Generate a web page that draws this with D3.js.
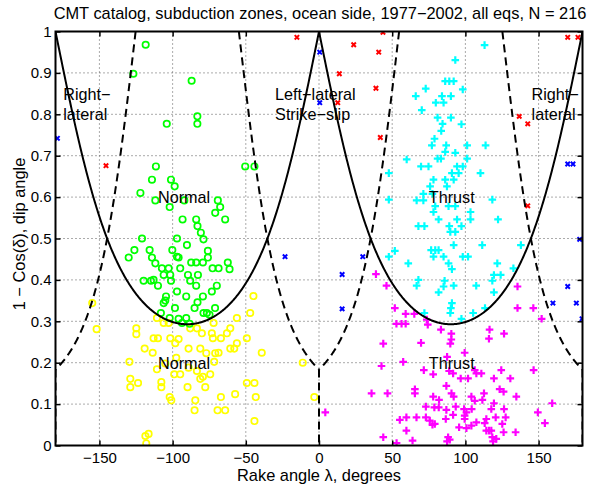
<!DOCTYPE html>
<html><head><meta charset="utf-8">
<script src="https://cdn.jsdelivr.net/npm/d3@7"></script>
<style>
body{margin:0;background:#fff}
text{font-family:"Liberation Sans",Arial,Helvetica,sans-serif;fill:#000}
</style>
</head><body><svg id="c" width="597" height="486"></svg>
<script>
// ---- data: [rake λ (deg), 1 - cos(dip)] ----
const xTicks = [-150, -100, -50, 0, 50, 100, 150];
const yTicks = [0, 0.1, 0.2, 0.3, 0.4, 0.5, 0.6, 0.7, 0.8, 0.9, 1];

const normalSteep = [ // green circles
[-118.4,0.968],[-126.8,0.898],[-87.0,0.881],[-83.1,0.795],[-83.1,0.777],[-104.0,0.777],[-50.4,0.674],[-44.1,0.674],
[-111.4,0.674],[-114.1,0.642],[-101.1,0.642],[-98.6,0.626],[-122.0,0.610],[-111.8,0.592],[-102.0,0.576],[-92.0,0.592],
[-69.1,0.592],[-67.5,0.576],[-70.9,0.562],[-64.1,0.546],[-93.2,0.546],[-83.9,0.546],[-83.0,0.530],[-80.7,0.514],
[-78.9,0.498],[-120.9,0.500],[-97.0,0.500],[-90.2,0.484],[-126.1,0.472],[-130.0,0.454],[-115.7,0.472],[-114.1,0.454],
[-100.2,0.472],[-97.0,0.456],[-95.9,0.454],[-75.9,0.470],[-75.9,0.454],[-111.8,0.440],[-107.3,0.428],[-102.7,0.428],
[-106.1,0.412],[-101.6,0.412],[-94.8,0.428],[-87.3,0.442],[-83.9,0.442],[-79.3,0.442],[-89.5,0.412],[-82.7,0.412],
[-72.7,0.428],[-68.6,0.428],[-62.3,0.442],[-61.1,0.426],[-119.8,0.398],[-114.8,0.398],[-113.0,0.400],[-110.0,0.386],
[-101.1,0.398],[-88.0,0.398],[-83.9,0.386],[-69.8,0.386],[-73.2,0.372],[-97.0,0.372],[-90.7,0.360],[-104.5,0.360],
[-106.1,0.344],[-105.0,0.350],[-98.4,0.332],[-83.0,0.346],[-79.3,0.360],[-85.0,0.332],[-78.9,0.320],[-76.6,0.320],
[-74.8,0.316],[-71.0,0.332],[-108.0,0.320],[-102.0,0.308],[-95.9,0.306],[-90.7,0.308],[-93.6,0.296],[-88.4,0.294]
];
const normalShallow = [ // yellow circles
[-44.8,0.361],[-47.0,0.320],[-56.1,0.308],[-110.7,0.308],[-106.1,0.296],[-102.7,0.296],[-124.8,0.283],[-124.8,0.269],
[-113.0,0.259],[-110.0,0.259],[-101.6,0.259],[-95.9,0.257],[-98.2,0.247],[-88.0,0.283],[-83.4,0.283],[-80.0,0.271],
[-73.2,0.271],[-72.5,0.259],[-72.0,0.296],[-67.0,0.259],[-62.9,0.271],[-60.6,0.283],[-56.1,0.247],[-49.3,0.259],
[-39.1,0.224],[-119.1,0.234],[-113.6,0.224],[-89.1,0.234],[-81.1,0.234],[-77.0,0.223],[-70.9,0.223],[-68.6,0.224],
[-60.6,0.234],[-57.9,0.234],[-129.5,0.202],[-110.7,0.184],[-97.5,0.212],[-105.0,0.198],[-89.1,0.188],[-83.4,0.180],
[-71.6,0.202],[-98.9,0.172],[-94.8,0.172],[-81.1,0.161],[-79.3,0.166],[-74.3,0.172],[-128.9,0.161],[-128.9,0.141],
[-123.6,0.151],[-107.7,0.153],[-107.7,0.141],[-89.8,0.141],[-77.7,0.141],[-49.3,0.151],[-44.1,0.151],[-102.0,0.117],
[-100.9,0.109],[-84.5,0.109],[-85.0,0.085],[-67.0,0.117],[-69.3,0.085],[-64.1,0.085],[-57.3,0.124],[-43.2,0.117],
[-44.1,0.059],[-118.6,0.023],[-116.4,0.028],[-118.0,0.005],[-151.9,0.281],[-154.9,0.344],[-11.1,0.200],[-3.2,0.117]
];
const thrustSteep = [ // cyan plus
[113.1,0.967],[93.1,0.931],[86.2,0.880],[89.0,0.880],[92.0,0.880],[72.9,0.862],[98.2,0.860],[66.1,0.844],[84.0,0.844],
[90.1,0.844],[79.8,0.828],[85.1,0.828],[70.2,0.810],[81.0,0.792],[90.1,0.792],[84.4,0.777],[97.3,0.776],[83.5,0.760],
[78.9,0.741],[77.1,0.725],[86.9,0.725],[101.2,0.725],[113.8,0.725],[86.2,0.709],[93.1,0.707],[59.9,0.691],[81.0,0.693],
[83.3,0.693],[101.2,0.693],[69.7,0.674],[74.8,0.674],[94.3,0.674],[98.2,0.674],[47.7,0.658],[90.8,0.658],[95.4,0.658],
[110.3,0.658],[78.2,0.642],[86.2,0.642],[92.0,0.642],[75.9,0.626],[87.4,0.626],[71.3,0.608],[77.5,0.608],[66.7,0.592],
[71.3,0.592],[47.7,0.594],[118.4,0.594],[79.4,0.578],[88.5,0.578],[93.1,0.578],[78.2,0.564],[103.5,0.564],[81.7,0.546],
[94.3,0.546],[103.5,0.546],[122.3,0.546],[67.9,0.530],[72.0,0.530],[89.0,0.530],[97.3,0.530],[89.7,0.516],[93.1,0.516],
[92.0,0.484],[111.5,0.484],[137.9,0.484],[51.8,0.470],[76.6,0.472],[79.4,0.472],[81.7,0.472],[78.2,0.456],[85.1,0.456],
[98.2,0.456],[101.8,0.456],[47.7,0.456],[61.0,0.440],[88.5,0.440],[90.8,0.426],[121.8,0.440],[132.8,0.428],[119.5,0.412],
[124.1,0.412],[67.9,0.400],[85.8,0.398],[118.4,0.398],[66.7,0.386],[92.0,0.386],[107.4,0.386],[85.1,0.384],[81.7,0.370],
[119.5,0.370],[90.8,0.344],[90.1,0.332],[89.7,0.320],[72.0,0.320],[105.3,0.320],[97.3,0.306],[113.4,0.332]
];
const thrustShallow = [ // magenta plus
[46.1,0.386],[51.8,0.332],[59.2,0.318],[65.1,0.318],[52.9,0.294],[56.4,0.294],[59.2,0.294],[73.6,0.304],[74.3,0.292],
[83.3,0.280],[90.4,0.270],[90.4,0.256],[89.7,0.246],[116.5,0.280],[116.1,0.258],[126.4,0.270],[135.6,0.384],[135.6,0.332],
[146.4,0.332],[152.1,0.306],[69.7,0.248],[38.9,0.414],[4.3,0.080],[43.9,0.246],[99.5,0.224],[87.5,0.214],[57.5,0.202],
[42.7,0.192],[71.6,0.182],[78.0,0.172],[88.9,0.180],[91.6,0.174],[96.8,0.162],[101.8,0.162],[106.4,0.182],[107.5,0.174],
[110.9,0.174],[119.5,0.162],[124.5,0.182],[130.7,0.162],[146.6,0.182],[35.9,0.126],[46.8,0.126],[65.5,0.136],[65.5,0.126],
[87.0,0.144],[78.0,0.118],[82.0,0.110],[90.5,0.126],[92.0,0.118],[104.1,0.118],[112.7,0.126],[106.4,0.108],[111.6,0.110],
[123.4,0.136],[126.1,0.130],[134.8,0.118],[159.3,0.102],[119.5,0.102],[73.0,0.094],[78.8,0.092],[81.8,0.092],[87.0,0.086],
[93.4,0.094],[99.1,0.088],[100.7,0.080],[104.3,0.088],[117.7,0.088],[126.4,0.088],[149.5,0.080],[55.2,0.062],[59.7,0.068],
[66.6,0.068],[73.0,0.068],[75.7,0.060],[77.5,0.050],[79.1,0.052],[86.6,0.064],[91.6,0.074],[99.5,0.072],[99.5,0.064],
[107.5,0.056],[104.1,0.048],[114.3,0.064],[113.2,0.054],[120.7,0.068],[127.5,0.068],[125.2,0.052],[154.3,0.054],[95.7,0.044],
[100.7,0.042],[59.7,0.036],[114.3,0.036],[116.1,0.036],[117.7,0.036],[126.1,0.032],[134.3,0.032],[43.9,0.020],[63.9,0.012],
[88.2,0.020],[89.3,0.014],[87.5,0.010],[118.4,0.020],[121.1,0.016],[118.9,0.010],[53.0,0.006]
];
const strikeRed = [
[-145.5,0.676],[-15.1,0.986],[43.7,0.998],[23.7,0.968],[40.8,0.950],[13.9,0.898],[38.9,0.863],[12.8,0.828],[41.9,0.744],
[136.8,0.795],[142.6,0.777],[142.6,0.579],[169.9,0.986],[176.9,0.986]
];
const strikeBlue = [
[-178.7,0.742],[-23.2,0.456],[0.5,0.950],[0.5,0.828],[15.8,0.413],[15.8,0.330],[29.9,0.456],[169.9,0.384],[159.8,0.344],
[175.8,0.344],[179.7,0.306],[169.9,0.680],[173.5,0.680],[178.1,0.498]
];
const regionLabels = [
  {lines:["Right\u2212","lateral"], at:[-174.7,0.825]},
  {lines:["Left\u2212lateral","Strike\u2212slip"], at:[-30,0.825]},
  {lines:["Right\u2212","lateral"], at:[145.2,0.825]},
  {lines:["Normal"], at:[-110,0.6]},
  {lines:["Normal"], at:[-110,0.2]},
  {lines:["Thrust"], at:[75,0.6]},
  {lines:["Thrust"], at:[75,0.2]}
];
const titleText = "CMT catalog, subduction zones, ocean side, 1977\u22122002, all eqs, N = 216";
const xLabel = "Rake angle \u03bb, degrees";
const yLabel = "1 \u2212 Cos(\u03b4), dip angle";

// ---- layout ----
const L = 55.5, R = 582.5, T = 31.5, B = 445.5;
const svg = d3.select("#c");
svg.append("rect").attr("width",597).attr("height",486).attr("fill","#fff");
const x = d3.scaleLinear().domain([-180,180]).range([L,R]);
const y = d3.scaleLinear().domain([0,1]).range([B,T]);

svg.append("defs").append("clipPath").attr("id","clip")
  .append("rect").attr("x",L).attr("y",T).attr("width",R-L).attr("height",B-T);

// grid
const grid = svg.append("g").attr("stroke","#444").attr("stroke-width",0.9).attr("stroke-dasharray","1,3");
xTicks.forEach(v=>grid.append("line").attr("x1",x(v)).attr("x2",x(v)).attr("y1",T).attr("y2",B));
yTicks.filter(v=>v>0&&v<1).forEach(v=>grid.append("line").attr("y1",y(v)).attr("y2",y(v)).attr("x1",L).attr("x2",R));

// markers
const plot = svg.append("g").attr("clip-path","url(#clip)");
function circles(data,color){
  plot.append("g").selectAll("circle").data(data).join("circle")
    .attr("cx",d=>x(d[0])).attr("cy",d=>y(d[1])).attr("r",3.2)
    .attr("fill","none").attr("stroke",color).attr("stroke-width",1.7);
}
function pluses(data,color){
  const s=3.8;
  plot.append("g").selectAll("path").data(data).join("path")
    .attr("d",d=>{const cx=x(d[0]),cy=y(d[1]);return `M${cx-s},${cy}H${cx+s}M${cx},${cy-s}V${cy+s}`;})
    .attr("stroke",color).attr("stroke-width",2.2).attr("fill","none");
}
function crosses(data,color){
  const s=2.2;
  plot.append("g").selectAll("path").data(data).join("path")
    .attr("d",d=>{const cx=x(d[0]),cy=y(d[1]);return `M${cx-s},${cy-s}L${cx+s},${cy+s}M${cx-s},${cy+s}L${cx+s},${cy-s}`;})
    .attr("stroke",color).attr("stroke-width",2).attr("fill","none");
}
circles(normalShallow,"#ffff00");
circles(normalSteep,"#00ff00");
pluses(thrustShallow,"#ff00ff");
pluses(thrustSteep,"#00ffff");
crosses(strikeRed,"#ff0000");
crosses(strikeBlue,"#0000ff");

// theoretical boundary curves
const rad = Math.PI/180;
const line = d3.line().x(d=>x(d[0])).y(d=>y(d[1]));
const rakes = d3.range(-180,180.001,0.5);
// solid: fault plane and auxiliary plane equally dipping (tan δ = 1/|sin λ|)
const solid = rakes.map(l=>{const s=Math.abs(Math.sin(l*rad));return [l,1-s/Math.sqrt(1+s*s)];});
plot.append("path").attr("d",line(solid)).attr("fill","none").attr("stroke","#000").attr("stroke-width",2);
// dashed: B-axis plunge equals P (or T) axis plunge
const lc = Math.atan(Math.SQRT2)/rad; // 54.7356
function dashedY(l){const s=Math.abs(Math.sin(l*rad)),c=Math.abs(Math.cos(l*rad));const d=Math.SQRT2*c-s;return d<=0?1:1-d/Math.sqrt(1+d*d);}
const segs = [[-180,-180+lc],[-lc,0],[0,lc],[180-lc,180]];
const dashG = plot.append("g").attr("fill","none").attr("stroke","#000").attr("stroke-width",2).attr("stroke-dasharray","8,5");
segs.forEach(([a,b])=>{
  const pts = d3.range(a,b,0.25).concat([b]).map(l=>[l,dashedY(l)]);
  const ordered = dashedY(a)>dashedY(b)?pts:pts.reverse();
  dashG.append("path").attr("d",line(ordered));
});
const y0 = 1-Math.SQRT2/Math.sqrt(3);
[-180,0,180].forEach(v=>dashG.append("path").attr("d",line([[v,y0],[v,0]])));

// axes
const fmtX = d=>d<0?"\u2212"+Math.abs(d):String(d);
const fmtY = d=>d===0?"0":d===1?"1":d.toFixed(1);
const ax = svg.append("g").attr("class","axes");
const gB = ax.append("g").attr("transform",`translate(0,${B})`)
  .call(d3.axisBottom(x).tickValues(xTicks).tickFormat(fmtX).tickSizeInner(-5).tickSizeOuter(0).tickPadding(6.5));
const gL = ax.append("g").attr("transform",`translate(${L},0)`)
  .call(d3.axisLeft(y).tickValues(yTicks).tickFormat(fmtY).tickSizeInner(-5).tickSizeOuter(0).tickPadding(4));
const gT = ax.append("g").attr("transform",`translate(0,${T})`)
  .call(d3.axisTop(x).tickValues(xTicks).tickFormat("").tickSizeInner(-5).tickSizeOuter(0));
const gR = ax.append("g").attr("transform",`translate(${R},0)`)
  .call(d3.axisRight(y).tickValues(yTicks).tickFormat("").tickSizeInner(-5).tickSizeOuter(0));
[gB,gL,gT,gR].forEach(g=>{
  g.select(".domain").remove();
  g.selectAll(".tick line").attr("stroke","#000").attr("stroke-width",1.5);
  g.selectAll(".tick text").attr("font-size",15).attr("font-family",'"Liberation Sans",Arial,sans-serif').attr("fill","#000");
});
ax.append("rect").attr("x",L).attr("y",T).attr("width",R-L).attr("height",B-T)
  .attr("fill","none").attr("stroke","#000").attr("stroke-width",2);

// region labels
regionLabels.forEach(lb=>{
  const n = lb.lines.length, lh = 20.7;
  const px = x(lb.at[0]), py = y(lb.at[1]);
  lb.lines.forEach((t,i)=>{
    svg.append("text").attr("x",px).attr("y",py + 6 + (i-(n-1)/2)*lh)
      .attr("font-size",16.2).text(t);
  });
});

// titles
svg.append("text").attr("x",320).attr("y",18.5).attr("text-anchor","middle").attr("font-size",16.4).text(titleText);
svg.append("text").attr("x",319).attr("y",481).attr("text-anchor","middle").attr("font-size",16.4).text(xLabel);
svg.append("text").attr("transform",`translate(25,234) rotate(-90)`).attr("text-anchor","middle").attr("font-size",16.4).text(yLabel);
</script></body></html>
